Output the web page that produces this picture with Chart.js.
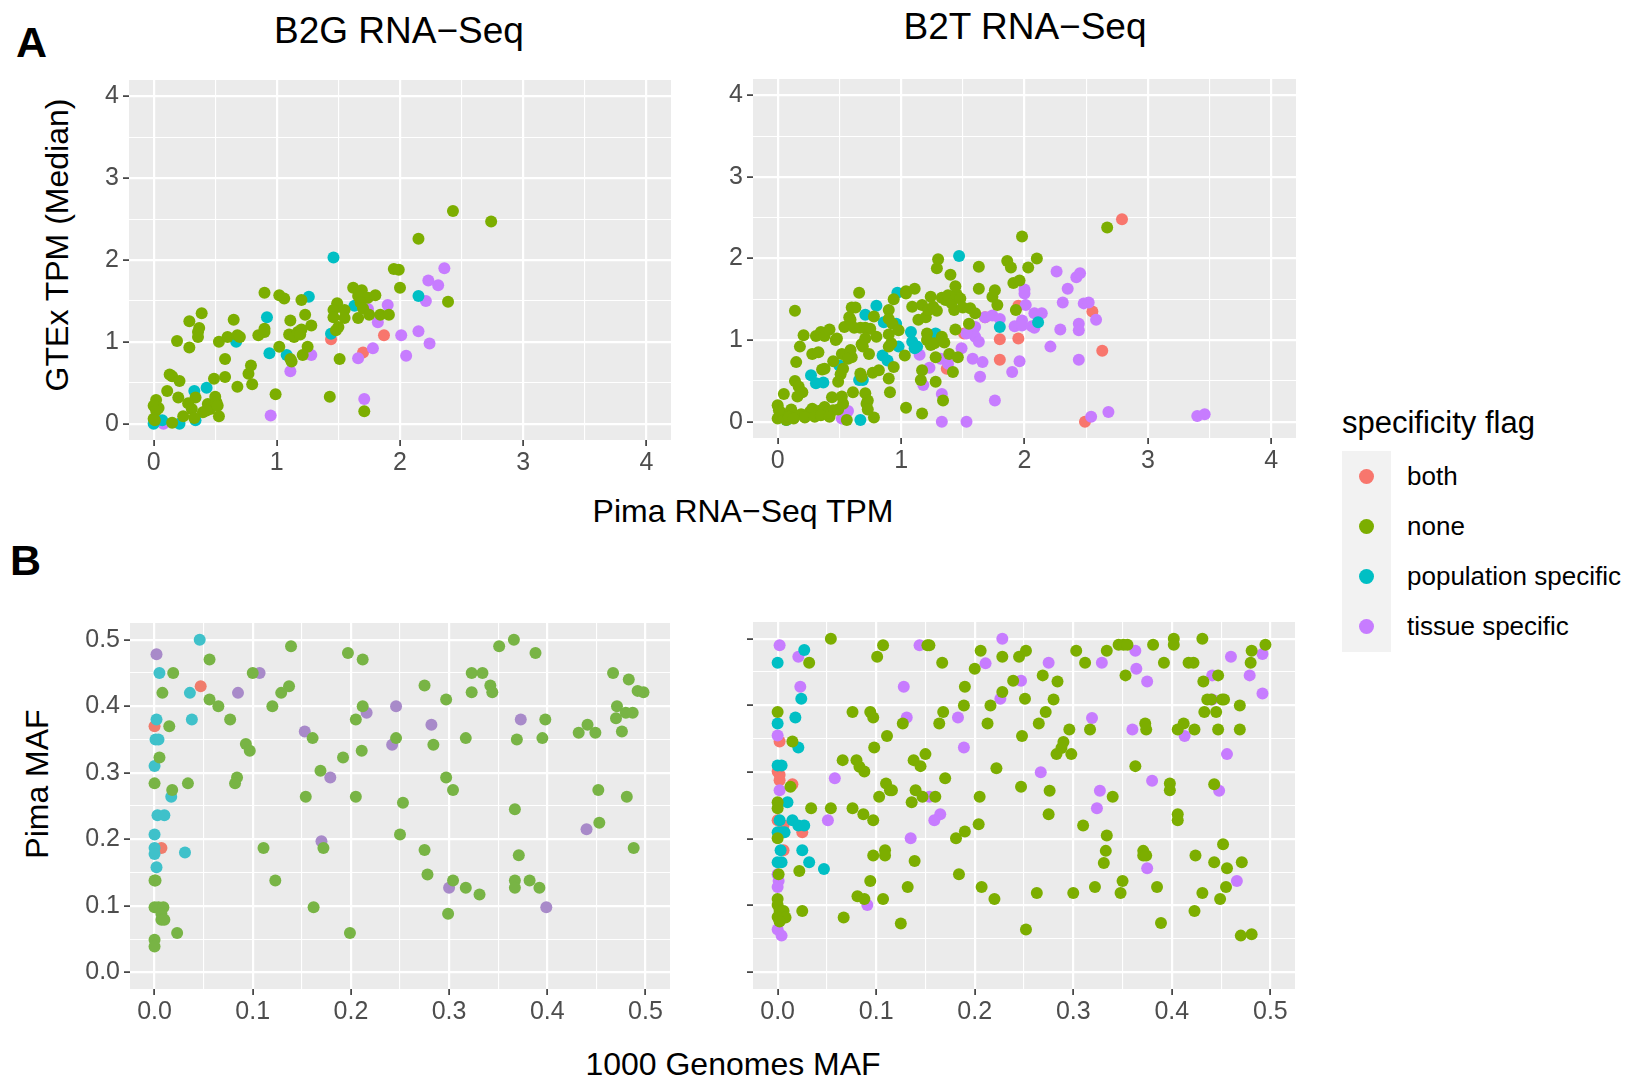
<!DOCTYPE html>
<html>
<head>
<meta charset="utf-8">
<script src="https://cdn.jsdelivr.net/npm/chart.js@4.4.1/dist/chart.umd.min.js"></script>
<style>
  html,body{margin:0;padding:0;background:#fff;}
  body{width:1635px;height:1078px;position:relative;overflow:hidden;font-family:"Liberation Sans",Arial,Helvetica,sans-serif;color:#000;}
  .t{position:absolute;white-space:nowrap;line-height:1;}
  .c{transform:translate(-50%,-50%);}
  .r{transform:translate(-50%,-50%) rotate(-90deg);}
  canvas{position:absolute;}
  .dot{position:absolute;border-radius:50%;}
</style>
</head>
<body>
<div class="t" style="left:16px;top:21px;font-size:43px;font-weight:bold;">A</div>
<div class="t" style="left:10px;top:539px;font-size:43px;font-weight:bold;">B</div>
<div class="t c" style="left:399px;top:30px;font-size:37px;">B2G RNA−Seq</div>
<div class="t c" style="left:1025px;top:26px;font-size:37px;">B2T RNA−Seq</div>
<div class="t r" style="left:57px;top:245px;font-size:32px;">GTEx TPM (Median)</div>
<div class="t c" style="left:743px;top:511px;font-size:32px;">Pima RNA−Seq TPM</div>
<div class="t r" style="left:37px;top:784px;font-size:32px;">Pima MAF</div>
<div class="t c" style="left:733px;top:1064px;font-size:32px;">1000 Genomes MAF</div>

<canvas id="tl" width="611" height="405" style="left:60px;top:80px;"></canvas>
<canvas id="tr" width="612" height="404" style="left:684px;top:79px;"></canvas>
<canvas id="bl" width="610" height="411" style="left:60px;top:623px;"></canvas>
<canvas id="br" width="562" height="412" style="left:733px;top:622px;"></canvas>

<div id="legend"></div>

<script>
// ---------- categories & colours ----------
const categories = ['both', 'none', 'population specific', 'tissue specific'];
const catColors = ['#F8766D', '#7CAE00', '#00BFC4', '#C77CFF'];
const catColorsMaf1 = ['#F07C6C', '#78B445', '#3FC1CA', '#A88AC9'];

// ---------- tick values / labels ----------
const tpmTickValues = [0, 1, 2, 3, 4];
const tpmTickLabels = ['0', '1', '2', '3', '4'];
const tpmMinorTicks = [0.5, 1.5, 2.5, 3.5];
const mafTickValues = [0, 0.1, 0.2, 0.3, 0.4, 0.5];
const mafTickLabels = ['0.0', '0.1', '0.2', '0.3', '0.4', '0.5'];
const mafMinorTicks = [0.05, 0.15, 0.25, 0.35, 0.45];

// ---------- B2G RNA-Seq (x: Pima TPM, y: GTEx TPM) ----------
const b2gBoth = [[1.44,1.03],[1.87,1.08],[1.70,0.87]];
const b2gNone = [[2.43,2.60],[2.74,2.47],[2.15,2.26],[1.95,1.89],[1.99,1.88],[2.00,1.66],[2.39,1.49],[1.62,1.66],[1.69,1.63],[1.66,1.56],[1.74,1.54],[1.80,1.57],[1.68,1.48],[1.70,1.41],[1.49,1.47],[1.46,1.39],[1.55,1.39],[1.46,1.30],[1.55,1.29],[1.66,1.29],[1.75,1.33],[1.84,1.33],[1.91,1.33],[1.50,1.18],[1.48,1.14],[0.90,1.60],[1.02,1.57],[1.06,1.53],[1.20,1.51],[1.23,1.33],[1.11,1.26],[1.28,1.20],[1.10,1.09],[1.14,1.06],[1.17,1.12],[1.20,1.15],[1.19,1.09],[1.02,0.94],[1.25,0.94],[1.11,0.79],[1.21,0.84],[1.12,0.76],[1.51,0.79],[1.43,0.33],[0.99,0.36],[1.71,0.15],[0.29,1.25],[0.39,1.35],[0.37,1.17],[0.36,1.12],[0.36,1.06],[0.19,1.01],[0.29,0.93],[0.53,1.00],[0.60,1.06],[0.65,1.27],[0.68,1.08],[0.70,1.06],[0.85,1.08],[0.90,1.12],[0.90,1.16],[0.58,0.79],[0.79,0.71],[0.77,0.61],[0.80,0.48],[0.58,0.57],[0.49,0.55],[0.68,0.45],[0.13,0.60],[0.15,0.58],[0.21,0.52],[0.11,0.40],[0.20,0.32],[0.28,0.25],[0.31,0.18],[0.34,0.32],[0.40,0.14],[0.44,0.24],[0.46,0.18],[0.50,0.33],[0.51,0.26],[0.52,0.22],[0.43,0.16],[0.53,0.09],[0.02,0.29],[0.00,0.22],[0.04,0.19],[0.02,0.16],[0.00,0.06],[0.24,0.09],[0.15,0.01],[0.33,0.07],[0.01,0.04]];
const b2gPop = [[1.46,2.03],[1.26,1.55],[0.92,1.30],[0.67,1.00],[0.94,0.86],[1.08,0.84],[1.63,1.44],[2.15,1.56],[1.44,1.10],[0.33,0.40],[0.43,0.44],[0.34,0.04],[0.21,0.00],[0.07,0.04],[0.00,0.00]];
const b2gTissue = [[2.36,1.90],[2.23,1.75],[2.31,1.69],[2.21,1.50],[1.90,1.45],[1.82,1.24],[1.74,1.40],[2.01,1.08],[2.15,1.13],[2.24,0.98],[2.05,0.83],[1.78,0.92],[1.66,0.80],[1.28,0.84],[1.11,0.64],[1.71,0.30],[0.95,0.10],[0.08,0.00]];

// ---------- B2T RNA-Seq ----------
const b2tBoth = [[1.68,1.28],[1.51,1.08],[1.37,0.65],[1.80,1.01],[1.80,0.76],[2.79,2.48],[2.55,1.35],[1.95,1.42],[1.95,1.02],[2.63,0.87],[2.49,0.00]];
const b2tNone = [[0.14,1.36],[0.21,1.06],[0.18,0.92],[0.15,0.73],[0.14,0.50],[0.17,0.43],[0.20,0.36],[0.16,0.31],[0.05,0.34],[0.00,0.20],[0.03,0.11],[0.00,0.04],[0.07,0.02],[0.11,0.15],[0.19,0.09],[0.26,0.12],[0.28,0.16],[0.33,0.13],[0.38,0.18],[0.41,0.12],[0.45,0.14],[0.49,0.15],[0.53,0.22],[0.56,0.02],[0.02,0.08],[0.05,0.05],[0.01,0.14],[0.09,0.06],[0.13,0.04],[0.22,0.05],[0.30,0.06],[0.35,0.08],[0.42,0.06],[0.28,0.83],[0.33,0.85],[0.31,1.05],[0.35,1.10],[0.38,1.05],[0.42,1.13],[0.36,0.64],[0.38,0.65],[0.45,0.74],[0.47,1.00],[0.48,1.02],[0.52,0.83],[0.54,1.16],[0.53,0.65],[0.51,0.58],[0.49,0.49],[0.44,0.30],[0.52,0.31],[0.60,1.40],[0.63,1.40],[0.58,1.28],[0.59,1.25],[0.66,1.58],[0.62,1.15],[0.67,1.15],[0.71,1.15],[0.75,1.14],[0.59,0.88],[0.60,0.79],[0.57,0.77],[0.68,0.95],[0.69,0.92],[0.71,1.02],[0.74,0.83],[0.67,0.59],[0.68,0.55],[0.61,0.36],[0.71,0.35],[0.73,0.26],[0.72,0.22],[0.73,0.15],[0.78,0.05],[0.77,0.60],[0.80,1.04],[0.82,0.63],[0.78,1.29],[0.90,1.37],[0.90,1.26],[0.93,1.20],[0.90,1.07],[0.92,0.96],[0.90,0.92],[0.94,0.67],[0.90,0.53],[0.91,0.36],[0.94,1.50],[1.04,1.60],[1.04,1.57],[1.11,1.63],[1.09,1.41],[1.17,1.43],[0.98,1.12],[1.03,0.81],[1.04,0.17],[1.17,0.10],[1.14,1.25],[1.20,1.28],[1.22,1.37],[1.24,1.53],[1.26,1.41],[1.29,1.36],[1.33,1.52],[1.36,1.49],[1.38,1.55],[1.41,1.45],[1.43,1.37],[1.45,1.56],[1.48,1.51],[1.50,1.40],[1.44,1.66],[1.30,1.99],[1.29,1.88],[1.40,1.80],[1.63,1.90],[1.63,1.63],[1.56,1.39],[1.60,1.33],[1.74,1.53],[1.76,1.61],[1.78,1.43],[1.44,1.13],[1.21,1.08],[1.21,1.00],[1.24,0.94],[1.27,0.96],[1.33,1.04],[1.35,0.97],[1.28,0.79],[1.39,0.83],[1.46,0.79],[1.42,0.61],[1.17,0.63],[1.16,0.51],[1.28,0.49],[1.34,0.26],[1.55,1.20],[2.67,2.38],[1.98,2.27],[2.10,2.00],[1.86,1.97],[1.89,1.89],[2.03,1.89],[1.91,1.70],[1.96,1.73],[1.93,1.37]];
const b2tPop = [[0.07,0.02],[0.27,0.57],[0.31,0.47],[0.37,0.48],[0.50,0.69],[0.66,0.51],[0.69,0.51],[0.67,0.02],[0.71,1.31],[0.80,1.42],[0.86,1.22],[0.96,1.20],[0.85,0.81],[0.89,0.75],[0.98,0.92],[0.97,1.58],[1.08,1.10],[1.09,0.98],[1.11,0.90],[1.13,0.92],[1.28,1.08],[1.47,2.03],[1.80,1.16],[2.11,1.22]];
const b2tTissue = [[0.52,0.04],[0.57,0.13],[1.15,0.82],[1.23,0.66],[1.18,0.45],[1.33,0.34],[1.33,0.00],[1.53,0.00],[1.32,0.77],[1.38,0.71],[1.49,0.90],[1.58,0.77],[1.66,0.73],[1.64,0.55],[1.76,0.26],[1.60,1.16],[1.60,1.04],[1.63,0.98],[1.68,1.28],[1.74,1.30],[1.80,1.26],[1.53,1.08],[2.26,1.84],[2.42,1.77],[2.45,1.82],[2.35,1.63],[2.00,1.62],[2.00,1.57],[2.31,1.46],[2.48,1.45],[2.52,1.46],[2.01,1.43],[2.08,1.33],[2.14,1.33],[2.58,1.25],[1.98,1.24],[1.92,1.17],[1.98,1.18],[2.06,1.17],[2.08,1.15],[2.29,1.13],[2.44,1.20],[2.44,1.12],[2.21,0.92],[2.44,0.76],[1.96,0.74],[1.90,0.61],[2.54,0.06],[2.68,0.12],[3.40,0.07],[3.46,0.09]];

// ---------- B2G MAF (x: 1000 Genomes MAF, y: Pima MAF) ----------
const maf1Both = [[0.047,0.43],[0.0,0.37],[0.007,0.187]];
const maf1None = [[0.139,0.49],[0.197,0.48],[0.212,0.47],[0.056,0.47],[0.019,0.45],[0.100,0.45],[0.008,0.42],[0.056,0.41],[0.065,0.40],[0.077,0.38],[0.137,0.43],[0.129,0.42],[0.120,0.40],[0.212,0.40],[0.205,0.38],[0.015,0.37],[0.161,0.352],[0.246,0.352],[0.093,0.343],[0.097,0.333],[0.192,0.323],[0.211,0.333],[0.005,0.323],[0.169,0.303],[0.084,0.293],[0.082,0.284],[0.0,0.284],[0.034,0.284],[0.018,0.274],[0.154,0.264],[0.205,0.264],[0.253,0.255],[0.250,0.207],[0.111,0.187],[0.172,0.187],[0.123,0.138],[0.0,0.138],[0.001,0.138],[0.162,0.098],[0.0,0.098],[0.004,0.098],[0.009,0.098],[0.007,0.088],[0.007,0.079],[0.010,0.079],[0.023,0.059],[0.199,0.059],[0.0,0.049],[0.0,0.039],[0.351,0.49],[0.366,0.50],[0.388,0.48],[0.323,0.45],[0.334,0.45],[0.275,0.431],[0.323,0.421],[0.342,0.431],[0.344,0.421],[0.297,0.41],[0.398,0.38],[0.317,0.352],[0.369,0.35],[0.395,0.352],[0.284,0.342],[0.297,0.293],[0.304,0.274],[0.367,0.245],[0.275,0.184],[0.278,0.147],[0.304,0.138],[0.317,0.127],[0.331,0.117],[0.299,0.088],[0.371,0.176],[0.367,0.138],[0.367,0.127],[0.382,0.138],[0.392,0.127],[0.467,0.45],[0.483,0.44],[0.492,0.423],[0.498,0.421],[0.471,0.40],[0.470,0.382],[0.480,0.39],[0.487,0.39],[0.476,0.362],[0.432,0.36],[0.441,0.372],[0.449,0.36],[0.452,0.274],[0.481,0.264],[0.453,0.225],[0.488,0.187]];
const maf1Pop = [[0.046,0.500],[0.005,0.450],[0.036,0.42],[0.038,0.38],[0.002,0.38],[0.001,0.35],[0.004,0.35],[0.0,0.31],[0.017,0.264],[0.003,0.236],[0.010,0.236],[0.0,0.207],[0.0,0.187],[0.0,0.178],[0.031,0.180],[0.002,0.158]];
const maf1Tissue = [[0.002,0.478],[0.107,0.45],[0.085,0.42],[0.153,0.362],[0.179,0.293],[0.170,0.197],[0.216,0.39],[0.246,0.40],[0.242,0.342],[0.282,0.372],[0.373,0.38],[0.440,0.215],[0.300,0.127],[0.399,0.098]];

// ---------- B2T MAF ----------
const maf2Both = [[0.002,0.346],[0.0,0.301],[0.002,0.296],[0.002,0.288],[0.015,0.282],[0.0,0.228],[0.006,0.22],[0.025,0.21],[0.006,0.183]];
const maf2None = [[0.054,0.50],[0.107,0.49],[0.101,0.473],[0.032,0.464],[0.167,0.464],[0.152,0.49],[0.154,0.49],[0.206,0.482],[0.228,0.473],[0.245,0.473],[0.252,0.482],[0.200,0.455],[0.239,0.437],[0.19,0.428],[0.228,0.42],[0.251,0.41],[0.189,0.40],[0.216,0.40],[0.0,0.39],[0.076,0.39],[0.094,0.39],[0.097,0.382],[0.168,0.39],[0.127,0.373],[0.164,0.373],[0.213,0.373],[0.111,0.354],[0.015,0.346],[0.248,0.354],[0.098,0.337],[0.066,0.318],[0.080,0.318],[0.083,0.308],[0.088,0.301],[0.138,0.318],[0.150,0.327],[0.145,0.309],[0.222,0.306],[0.17,0.291],[0.110,0.283],[0.114,0.273],[0.116,0.273],[0.013,0.278],[0.247,0.278],[0.103,0.263],[0.140,0.273],[0.147,0.263],[0.160,0.263],[0.205,0.263],[0.136,0.255],[0.0,0.255],[0.0,0.246],[0.034,0.246],[0.054,0.246],[0.076,0.246],[0.087,0.237],[0.097,0.228],[0.204,0.222],[0.181,0.201],[0.19,0.211],[0.0,0.201],[0.097,0.175],[0.109,0.183],[0.109,0.175],[0.139,0.167],[0.022,0.152],[0.001,0.147],[0.094,0.137],[0.132,0.128],[0.184,0.147],[0.207,0.128],[0.220,0.11],[0.081,0.114],[0.088,0.11],[0.107,0.11],[0.0,0.11],[0.0,0.101],[0.002,0.092],[0.006,0.092],[0.0,0.083],[0.008,0.082],[0.002,0.076],[0.025,0.092],[0.067,0.082],[0.125,0.073],[0.252,0.064],[0.303,0.482],[0.334,0.482],[0.312,0.464],[0.346,0.491],[0.351,0.491],[0.355,0.491],[0.381,0.491],[0.402,0.50],[0.402,0.491],[0.431,0.50],[0.495,0.491],[0.392,0.464],[0.417,0.464],[0.422,0.464],[0.481,0.482],[0.480,0.464],[0.269,0.445],[0.284,0.436],[0.353,0.445],[0.432,0.436],[0.447,0.445],[0.280,0.409],[0.272,0.39],[0.265,0.373],[0.296,0.364],[0.317,0.364],[0.373,0.373],[0.374,0.364],[0.406,0.364],[0.412,0.373],[0.423,0.364],[0.447,0.364],[0.469,0.364],[0.436,0.409],[0.44,0.409],[0.451,0.409],[0.453,0.409],[0.433,0.39],[0.445,0.39],[0.469,0.40],[0.290,0.345],[0.288,0.336],[0.283,0.327],[0.298,0.327],[0.363,0.309],[0.276,0.272],[0.340,0.263],[0.398,0.283],[0.398,0.273],[0.443,0.282],[0.275,0.237],[0.310,0.22],[0.406,0.237],[0.406,0.228],[0.334,0.205],[0.333,0.182],[0.331,0.164],[0.371,0.182],[0.371,0.175],[0.374,0.175],[0.424,0.175],[0.452,0.192],[0.443,0.165],[0.456,0.156],[0.471,0.165],[0.350,0.137],[0.322,0.128],[0.385,0.128],[0.455,0.128],[0.263,0.119],[0.300,0.119],[0.348,0.119],[0.431,0.119],[0.449,0.11],[0.423,0.092],[0.389,0.074],[0.470,0.055],[0.481,0.057]];
const maf2Pop = [[0.027,0.483],[0.0,0.464],[0.024,0.41],[0.018,0.382],[0.0,0.373],[0.021,0.337],[0.0,0.31],[0.004,0.31],[0.01,0.255],[0.002,0.228],[0.015,0.228],[0.021,0.22],[0.027,0.22],[0.0,0.21],[0.004,0.21],[0.007,0.21],[0.003,0.183],[0.025,0.183],[0.0,0.165],[0.004,0.165],[0.032,0.165],[0.047,0.155]];
const maf2Tissue = [[0.002,0.49],[0.021,0.473],[0.023,0.428],[0.128,0.428],[0.144,0.49],[0.211,0.463],[0.228,0.50],[0.247,0.437],[0.226,0.41],[0.131,0.382],[0.183,0.382],[0.0,0.355],[0.189,0.337],[0.058,0.291],[0.002,0.273],[0.154,0.263],[0.165,0.237],[0.159,0.228],[0.051,0.228],[0.135,0.201],[0.0,0.147],[0.001,0.137],[0.0,0.128],[0.091,0.101],[0.0,0.064],[0.004,0.055],[0.275,0.464],[0.329,0.464],[0.363,0.482],[0.364,0.455],[0.375,0.436],[0.441,0.445],[0.460,0.473],[0.492,0.477],[0.479,0.445],[0.492,0.418],[0.441,0.409],[0.319,0.381],[0.360,0.364],[0.413,0.354],[0.456,0.327],[0.267,0.30],[0.380,0.287],[0.327,0.272],[0.448,0.272],[0.324,0.246],[0.375,0.156],[0.466,0.137]];

// ---------- helpers ----------
const FONT = '"Liberation Sans", Arial, Helvetica, sans-serif';
const bgPlugin = {
  id: 'panelBg',
  beforeDraw(chart) {
    const a = chart.chartArea, c = chart.ctx;
    c.save(); c.fillStyle = '#EBEBEB';
    c.fillRect(a.left, a.top, a.right - a.left, a.bottom - a.top);
    c.restore();
  }
};

function isMajor(v, majors) { return majors.some(m => Math.abs(m - v) < 1e-6); }
function labelFor(v, majors, labels) {
  const i = majors.findIndex(m => Math.abs(m - v) < 1e-6);
  return i >= 0 ? labels[i] : '';
}

function axis(min, max, majors, minors, labels, showLabels, fitSize, isX) {
  const all = majors.concat(minors).sort((a, b) => a - b);
  return {
    type: 'linear', min: min, max: max,
    afterBuildTicks(scale) { scale.ticks = all.map(v => ({ value: v })); },
    afterFit(scale) {
      if (isX) { scale.height = fitSize; scale.paddingLeft = 0; scale.paddingRight = 0; }
      else { scale.width = fitSize; scale.paddingTop = 0; scale.paddingBottom = 0; }
    },
    border: { display: false },
    grid: {
      color: '#FFFFFF',
      lineWidth: ctx => isMajor(ctx.tick.value, majors) ? 2.2 : 1.1,
      drawTicks: true,
      tickLength: 6,
      tickWidth: 1.6,
      tickColor: ctx => isMajor(ctx.tick.value, majors) ? '#333333' : 'rgba(0,0,0,0)'
    },
    ticks: {
      autoSkip: false, maxRotation: 0, minRotation: 0,
      padding: isX ? 2 : 4,
      color: '#4D4D4D',
      font: { family: FONT, size: 25 },
      callback: v => showLabels ? labelFor(v, majors, labels) : ''
    }
  };
}

function makeChart(id, groups, colors, xr, yr, majors, minors, labels, showY, yFit, xFit, radius) {
  const datasets = groups.map((pts, i) => ({
    label: categories[i],
    data: pts.map(p => ({ x: p[0], y: p[1] })),
    backgroundColor: colors[i],
    borderWidth: 0,
    pointRadius: radius,
    pointHoverRadius: radius,
    clip: false
  }));
  // draw order: none, population, tissue, both
  const order = [1, 2, 3, 0];
  new Chart(document.getElementById(id), {
    type: 'scatter',
    data: { datasets: order.map(i => datasets[i]) },
    options: {
      responsive: false, animation: false, events: [],
      layout: { padding: 0, autoPadding: false },
      plugins: { legend: { display: false }, tooltip: { enabled: false } },
      scales: {
        x: axis(xr[0], xr[1], majors, minors, labels, true, xFit, true),
        y: axis(yr[0], yr[1], majors, minors, labels, showY, yFit, false)
      }
    },
    plugins: [bgPlugin]
  });
}

makeChart('tl', [b2gBoth, b2gNone, b2gPop, b2gTissue], catColors, [-0.2, 4.2], [-0.2, 4.2], tpmTickValues, tpmMinorTicks, tpmTickLabels, true, 69, 45, 6);
makeChart('tr', [b2tBoth, b2tNone, b2tPop, b2tTissue], catColors, [-0.2, 4.2], [-0.2, 4.2], tpmTickValues, tpmMinorTicks, tpmTickLabels, true, 69, 45, 6);
makeChart('bl', [maf1Both, maf1None, maf1Pop, maf1Tissue], catColorsMaf1, [-0.025, 0.525], [-0.025, 0.525], mafTickValues, mafMinorTicks, mafTickLabels, true, 70, 45, 6);
makeChart('br', [maf2Both, maf2None, maf2Pop, maf2Tissue], catColors, [-0.025, 0.525], [-0.025, 0.525], mafTickValues, mafMinorTicks, mafTickLabels, false, 20, 45, 6);

// ---------- legend ----------
(function () {
  const lg = document.getElementById('legend');
  let html = '<div class="t" style="left:1342px;top:407px;font-size:31px;">specificity flag</div>';
  html += '<div style="position:absolute;left:1342px;top:451px;width:49px;height:201px;background:#F2F2F2;"></div>';
  const ys = [476.5, 526.5, 576.6, 626.7];
  categories.forEach((c, i) => {
    html += '<div class="dot" style="left:' + (1366.5 - 7.5) + 'px;top:' + (ys[i] - 7.5) + 'px;width:15px;height:15px;background:' + catColors[i] + ';"></div>';
    html += '<div class="t" style="left:1407px;top:' + (ys[i] - 14) + 'px;font-size:26px;">' + c + '</div>';
  });
  lg.innerHTML = html;
})();
</script>
</body>
</html>
